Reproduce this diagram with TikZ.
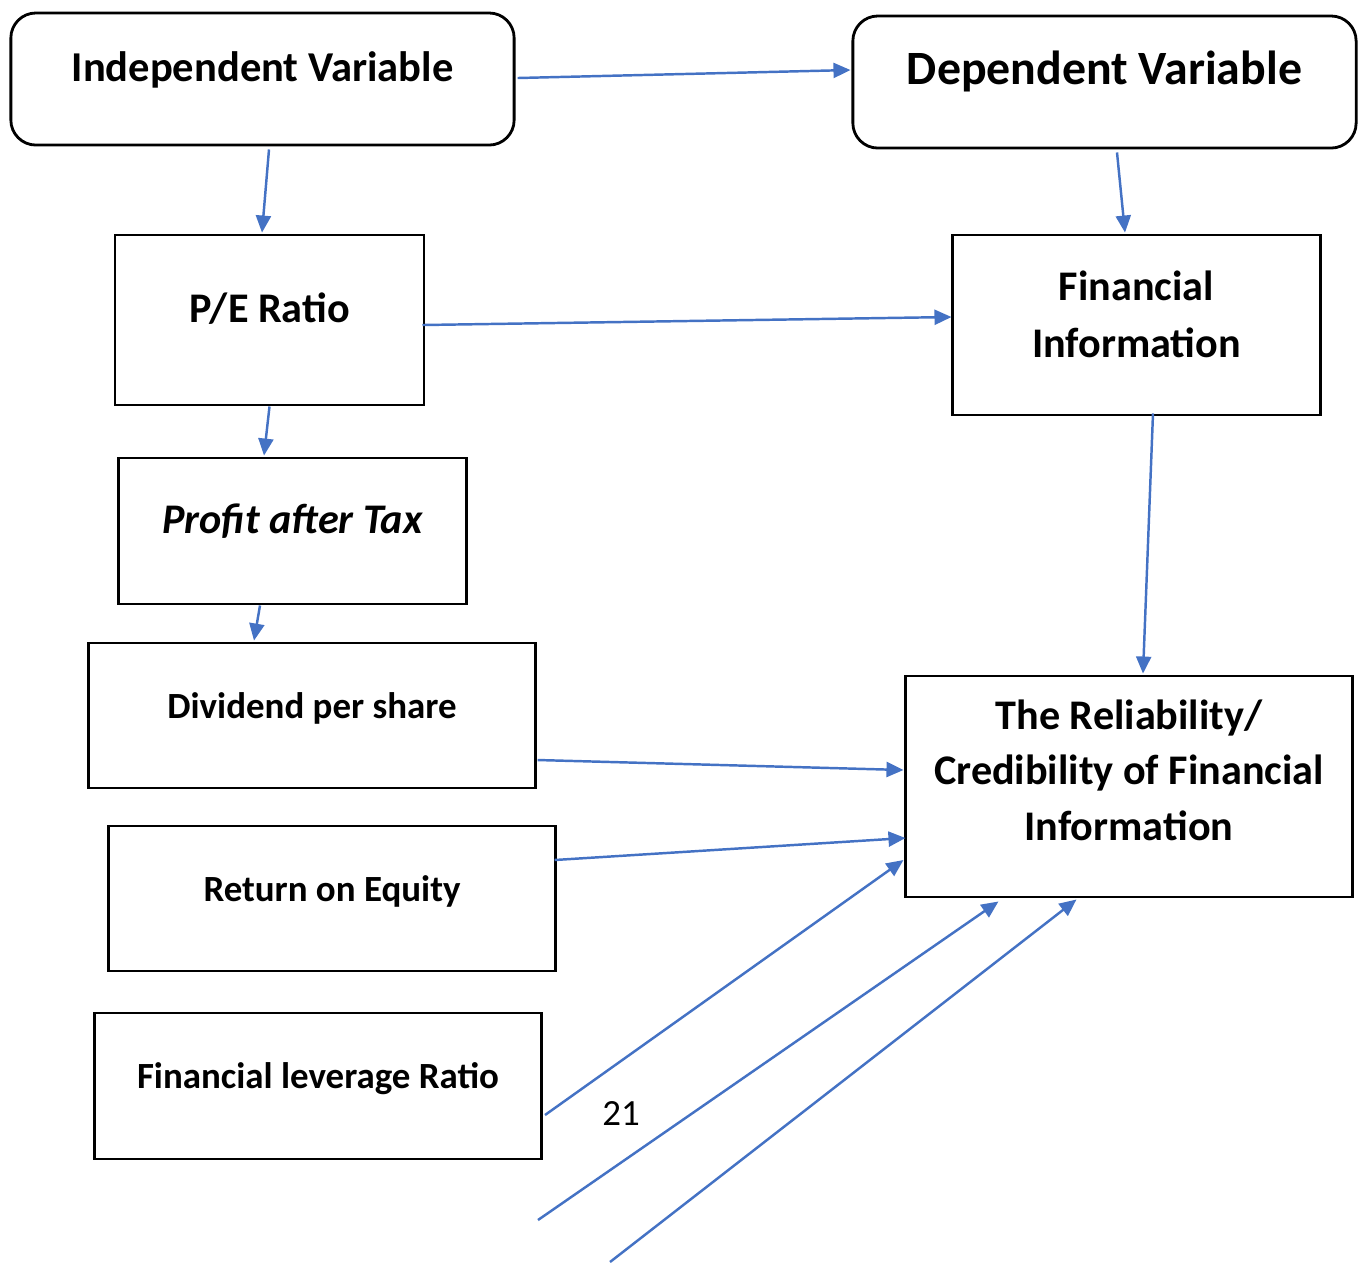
\documentclass[tikz,border=0pt]{standalone}
\usepackage{fontspec}
\setmainfont{Carlito}
\usetikzlibrary{arrows.meta,calc,positioning}
\definecolor{linkblue}{HTML}{4472C4}

\begin{document}
\begin{tikzpicture}[x=0.01cm,y=-0.01cm,
   box/.style={draw,line width=0.8pt,inner sep=0pt,align=center,
     font=\bfseries\fontsize{12}{16}\selectfont,text height=9pt,text depth=7.5pt},
   small/.style={font=\bfseries\fontsize{10.5}{14}\selectfont},
   round/.style={rounded corners=0.25cm},
   link/.style={draw=linkblue,line width=0.7pt,-{Triangle[length=0.17cm,width=0.15cm]}}]
  \useasboundingbox (0,0) rectangle (1363,1262);
  \node[box,round,minimum width=5.03cm,minimum height=1.32cm,font=\bfseries\fontsize{12.1}{16}\selectfont] (iv) at (262.5,79) {Independent Variable};
  \node[box,round,minimum width=5.03cm,minimum height=1.32cm,font=\bfseries\fontsize{13.6}{17}\selectfont] (dv) at (1104.5,82) {Dependent Variable};
  \node[box,minimum width=3.09cm,minimum height=1.70cm] (pe) at (269.5,320) {P/E Ratio};
  \node[box,minimum width=3.67cm,minimum height=1.80cm,font=\bfseries\fontsize{12}{16.2}\selectfont,text height=18.2pt,text depth=0pt] (fi) at (1136.5,325) {Financial\\Information};
  \node[box,minimum width=3.47cm,minimum height=1.46cm,font=\bfseries\itshape\fontsize{12}{16}\selectfont] (pat) at (292.5,531) {Profit after Tax};
  \node[box,small,minimum width=4.46cm,minimum height=1.45cm] (dps) at (312,715.5) {Dividend per share};
  \node[box,small,minimum width=4.46cm,minimum height=1.45cm] (roe) at (332,898.5) {Return on Equity};
  \node[box,small,minimum width=4.46cm,minimum height=1.46cm] (flr) at (318,1086) {Financial leverage Ratio};
  \node[box,minimum width=4.46cm,minimum height=2.21cm,font=\bfseries\fontsize{12}{15.9}\selectfont,text height=30.9pt,text depth=0pt] (rel) at (1129,786.5) {The Reliability/\\Credibility of Financial\\Information};
  \node[font=\fontsize{10.5}{12}\selectfont] (pagenum) at (621,1113) {21};
  \coordinate (free1) at (545,1115);
  \coordinate (free2) at (538,1220);
  \coordinate (free3) at (610,1262);

  \draw[link] ($(iv.east)+(2,-1)$) -- ($(dv.west)+(-1,-12)$);
  \draw[link] ($(iv.south)+(6.5,3)$) -- ($(pe.north)+(-7.5,-1)$);
  \draw[link] ($(dv.south)+(12.5,3)$) -- ($(fi.north)+(-11.5,-1)$);
  \draw[link] ($(pe.east)+(-3,5)$) -- ($(fi.west)+(0,-8)$);
  \draw[link] (pe.south) -- ($(pat.north)+(-28.5,-1)$);
  \draw[link] ($(pat.south)+(-32.5,0)$) -- ($(dps.north)+(-58,-1)$);
  \draw[link] ($(fi.south)+(16.5,-3)$) -- ($(rel.north)+(14,-1)$);
  \draw[link] ($(dps.east)+(1,44.5)$) -- ($(rel.west)+(-1,-16.5)$);
  \draw[link] ($(roe.east)+(-2,-38.5)$) -- ($(rel.west)+(1,51.5)$);
  \draw[link] (free1) -- ($(rel.west)+(-1,73.5)$);
  \draw[link] (free2) -- ($(rel.south west)+(94,3)$);
  \draw[link] (free3) -- ($(rel.south west)+(172,1)$);
\end{tikzpicture}
\end{document}
